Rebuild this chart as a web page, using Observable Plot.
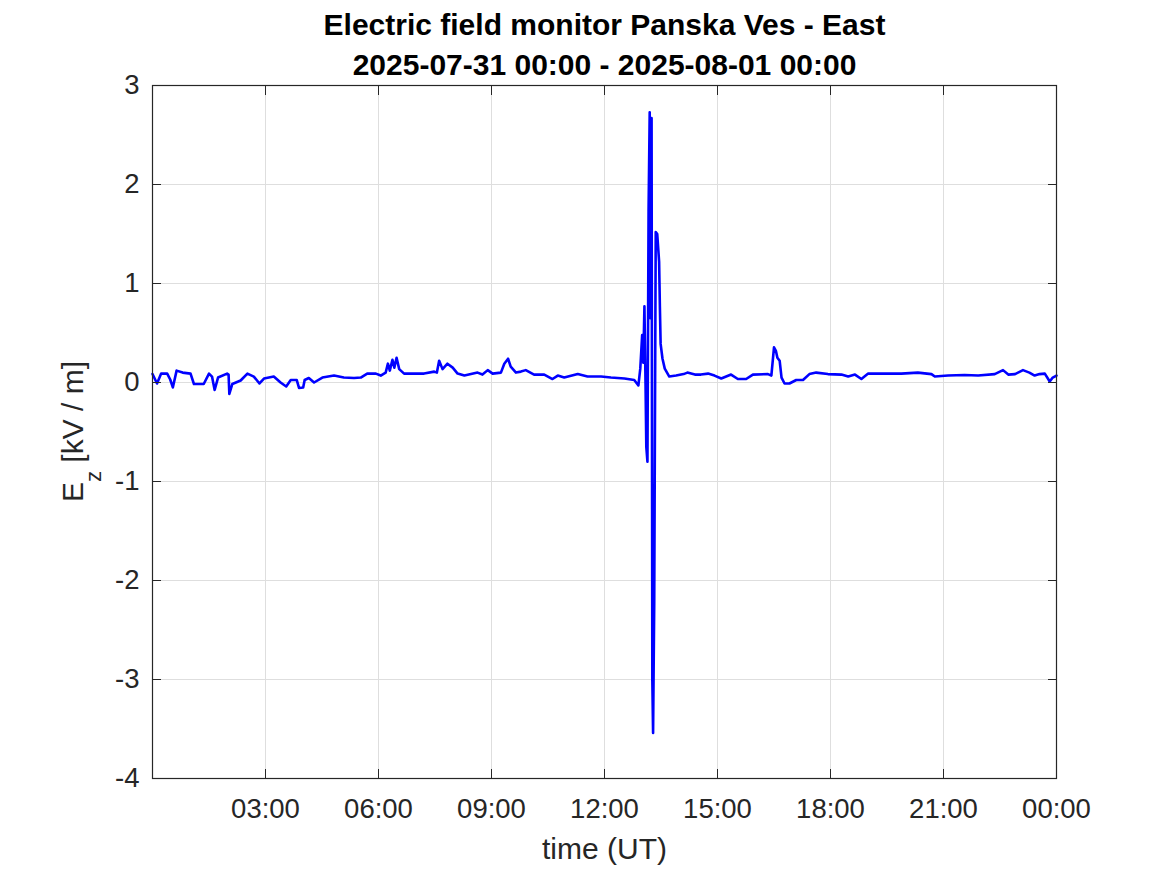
<!DOCTYPE html>
<html>
<head>
<meta charset="utf-8">
<script src="https://cdn.jsdelivr.net/npm/d3@7"></script>
<script src="https://cdn.jsdelivr.net/npm/@observablehq/plot@0.6"></script>
<style>
  html, body { margin: 0; padding: 0; background: #fff; }
  #chart svg { display: block; }
</style>
</head>
<body>
<div id="chart"></div>
<script>
// ---- data (time in decimal hours UT since 2025-07-31 00:00, Ez in kV/m) ----
const hours = [
  0.00, 0.12, 0.23, 0.39, 0.47, 0.54, 0.64, 0.80, 1.01, 1.10,
  1.36, 1.50, 1.58, 1.65, 1.74, 1.98, 2.02, 2.04, 2.12, 2.34,
  2.52, 2.69, 2.84, 2.96, 3.22, 3.40, 3.55, 3.67, 3.83, 3.89,
  4.00, 4.04, 4.15, 4.29, 4.51, 4.82, 5.08, 5.35, 5.53, 5.70,
  5.93, 6.06, 6.19, 6.25, 6.30, 6.37, 6.42, 6.48, 6.55, 6.68,
  6.95, 7.21, 7.48, 7.55, 7.61, 7.70, 7.83, 7.97, 8.10, 8.28,
  8.63, 8.76, 8.90, 9.03, 9.25, 9.34, 9.44, 9.51, 9.65, 9.78,
  9.91, 10.13, 10.40, 10.62, 10.76, 10.93, 11.29, 11.55, 11.91, 12.17,
  12.53, 12.79, 12.90, 12.95, 13.00, 13.03, 13.06, 13.09, 13.11, 13.14,
  13.17, 13.20, 13.22, 13.25, 13.27, 13.29, 13.32, 13.36, 13.40, 13.45,
  13.47, 13.49, 13.54, 13.60, 13.72, 13.90, 14.10, 14.20, 14.40, 14.56,
  14.75, 14.92, 15.10, 15.36, 15.54, 15.76, 15.94, 16.34, 16.43, 16.50,
  16.55, 16.59, 16.65, 16.70, 16.78, 16.91, 17.09, 17.27, 17.44, 17.62,
  17.93, 18.29, 18.47, 18.65, 18.82, 19.00, 19.44, 19.88, 20.32, 20.68,
  20.77, 21.12, 21.56, 21.92, 22.36, 22.58, 22.72, 22.90, 23.11, 23.28,
  23.42, 23.55, 23.69, 23.82, 23.90, 24.00
];
const ez = [
  0.086, -0.01, 0.09, 0.09, 0.03, -0.05, 0.12, 0.10, 0.09, -0.015,
  -0.015, 0.09, 0.06, -0.075, 0.05, 0.09, 0.08, -0.115, -0.015, 0.02,
  0.09, 0.06, -0.01, 0.04, 0.06, 0.0, -0.04, 0.025, 0.025, -0.055,
  -0.05, 0.025, 0.045, 0.0, 0.05, 0.07, 0.05, 0.045, 0.05, 0.09,
  0.09, 0.07, 0.10, 0.19, 0.12, 0.23, 0.15, 0.25, 0.135, 0.09,
  0.09, 0.09, 0.11, 0.10, 0.22, 0.135, 0.19, 0.15, 0.09, 0.07,
  0.10, 0.08, 0.125, 0.09, 0.10, 0.19, 0.24, 0.16, 0.10, 0.11,
  0.125, 0.08, 0.08, 0.035, 0.07, 0.05, 0.085, 0.06, 0.06, 0.05,
  0.04, 0.025, -0.03, 0.14, 0.48, 0.20, 0.77, -0.03, -0.65, -0.80,
  1.73, 2.73, 0.65, 2.67, -3.01, -3.54, -2.23, 1.52, 1.50, 1.22,
  0.77, 0.39, 0.24, 0.14, 0.06, 0.07, 0.085, 0.10, 0.08, 0.08,
  0.09, 0.07, 0.04, 0.08, 0.035, 0.035, 0.08, 0.085, 0.07, 0.355,
  0.32, 0.25, 0.22, 0.05, -0.01, -0.01, 0.025, 0.025, 0.085, 0.10,
  0.085, 0.08, 0.06, 0.08, 0.035, 0.09, 0.09, 0.09, 0.10, 0.085,
  0.06, 0.07, 0.075, 0.07, 0.085, 0.125, 0.08, 0.085, 0.125, 0.10,
  0.07, 0.085, 0.09, 0.01, 0.05, 0.07
];
const xTickHours = [3, 6, 9, 12, 15, 18, 21, 24];
const yTicks = [-4, -3, -2, -1, 0, 1, 2, 3];
const titleLines = ["Electric field monitor Panska Ves - East", "2025-07-31 00:00 - 2025-08-01 00:00"];
const xLabel = "time (UT)";

// ---- build ----
const base = Date.UTC(2025, 6, 31);
const toDate = h => new Date(base + h * 3600e3);
const data = hours.map((h, i) => ({t: toDate(h), v: ez[i]}));
const xTicks = xTickHours.map(toDate);
const fmt = d3.utcFormat("%H:%M");
const font = "Arial, 'Liberation Sans', Helvetica, sans-serif";
const ink = "#262626";

const chart = Plot.plot({
  width: 1167,
  height: 875,
  marginLeft: 152,
  marginRight: 111,
  marginTop: 85,
  marginBottom: 97,
  style: {fontFamily: font, fontSize: "27px", color: ink, background: "#fff", overflow: "visible"},
  x: {type: "utc", domain: [toDate(0), toDate(24)]},
  y: {domain: [-4, 3]},
  marks: [
    Plot.gridX(xTicks, {stroke: "#dedede", strokeOpacity: 1, strokeWidth: 1}),
    Plot.gridY(yTicks, {stroke: "#dedede", strokeOpacity: 1, strokeWidth: 1}),
    Plot.line(data, {x: "t", y: "v", stroke: "#0000ff", strokeWidth: 2.6, curve: "linear"}),
    Plot.frame({stroke: ink, strokeWidth: 1.2}),
    Plot.axisX(xTicks, {anchor: "bottom", tickSize: -9, tickPadding: 29, tickFormat: fmt, label: null, stroke: ink, fill: ink, fontSize: 27.5}),
    Plot.axisX(xTicks, {anchor: "top", tickSize: -9, tickFormat: () => "", label: null, stroke: ink}),
    Plot.axisY(yTicks, {anchor: "left", tickSize: -9, tickPadding: 22, tickFormat: d => String(d), label: null, stroke: ink, fill: ink, fontSize: 27.5}),
    Plot.axisY(yTicks, {anchor: "right", tickSize: -9, tickFormat: () => "", label: null, stroke: ink}),
    Plot.text([xLabel], {frameAnchor: "bottom", dy: 80, fontSize: 30, fill: ink}),
    Plot.text([titleLines[0]], {frameAnchor: "top", dy: -72, fontSize: 30, fontWeight: "bold", fill: "#000"}),
    Plot.text([titleLines[1]], {frameAnchor: "top", dy: -32, fontSize: 30, fontWeight: "bold", fill: "#000"})
  ]
});

// y label with subscript (real text)
const svg = d3.select(chart.tagName === "svg" ? chart : chart.querySelector("svg"));
const yl = svg.append("text")
  .attr("transform", "translate(83,431.5) rotate(-90)")
  .attr("text-anchor", "middle")
  .attr("font-family", font)
  .attr("font-size", 30)
  .attr("fill", ink);
yl.append("tspan").text("E");
yl.append("tspan").attr("font-size", 22).attr("dy", 18).text("z");
yl.append("tspan").attr("dy", -18).text(" [kV / m]");

document.getElementById("chart").appendChild(chart);
</script>
</body>
</html>
